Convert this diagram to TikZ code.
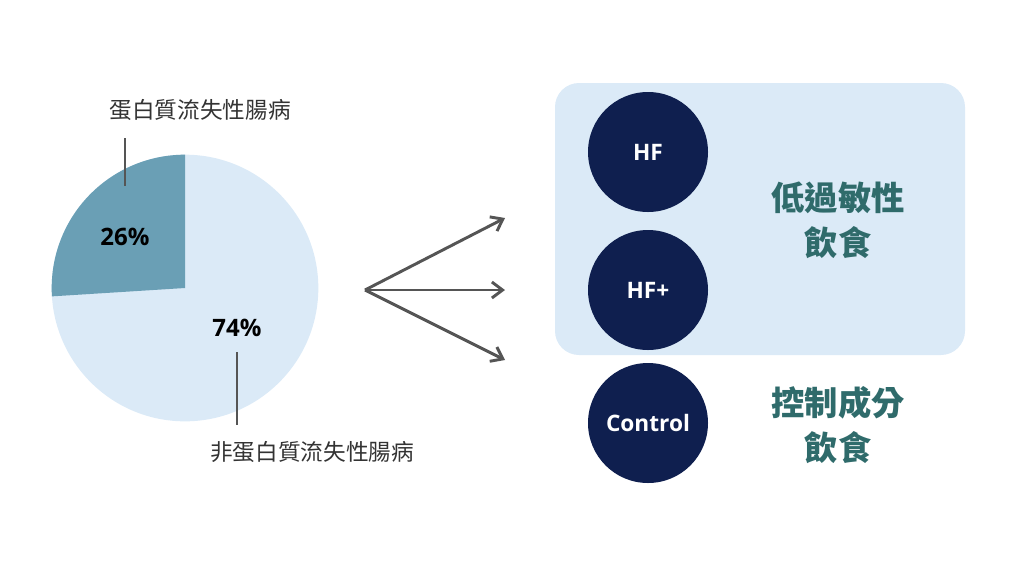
\documentclass[tikz,border=0pt]{standalone}
\usepackage{fontspec}
\setmainfont{Open Sans}
\newfontfamily\cjk{Noto Sans CJK TC}
\usetikzlibrary{positioning,arrows.meta}
\definecolor{pielight}{HTML}{DBEAF7}
\definecolor{piedark}{HTML}{6A9FB5}
\definecolor{navy}{HTML}{0F1F4F}
\definecolor{teal}{HTML}{2F6B6B}
\definecolor{arrowgray}{HTML}{555555}
\tikzset{
  dietdot/.style={circle, fill=navy, minimum size=90pt, inner sep=0pt, text=white, font=\bfseries\fontsize{17}{20}\selectfont},
  dietlabel/.style={text=teal, align=center, font=\cjk\bfseries\fontsize{25}{34}\selectfont},
  pielabel/.style={font=\cjk\fontsize{17}{20}\selectfont, text=black!80},
  pctlabel/.style={font=\bfseries\fontsize{18}{20}\selectfont},
  fan/.style={arrowgray, line width=2.2pt, -{Straight Barb[length=8pt,width=12pt]}}
}
\begin{document}
\begin{tikzpicture}[x=0.75pt,y=-0.75pt]
  \useasboundingbox (0,0) rectangle (1024,576);

  % pie
  \coordinate (piec) at (185,288);
  \fill[pielight] (piec) circle (100pt);
  \fill[piedark] (piec) -- ++(90:100pt) arc[start angle=90, end angle=183.6, radius=100pt] -- cycle;

  \node[pielabel] (protlab) at (200,110) {蛋白質流失性腸病};
  \node[pielabel] (nonlab) at (312,452) {非蛋白質流失性腸病};
  \node[pctlabel] (p26) at (125,237) {26\%};
  \node[pctlabel] (p74) at (237,328) {74\%};
  \draw[arrowgray, thick] (125,138) -- (125,186);
  \draw[arrowgray, thick] (237,352) -- (237,425);

  % fan of arrows
  \coordinate (fanroot) at (365,290);
  \coordinate (toa) at (505,218);
  \coordinate (tob) at (505,290);
  \coordinate (toc) at (505,360);
  \foreach \t in {toa,tob,toc}
    \draw[fan] (fanroot) -- (\t);

  % diet groups
  \fill[pielight, rounded corners=18pt] (555,83) rectangle (965,355);
  \node[dietdot] (hf) at (648,152) {HF};
  \node[dietdot] (hfplus) at (648,290) {HF+};
  \node[dietdot] (ctrl) at (648,423) {Control};
  \node[dietlabel] (hypo) at (838,220) {低過敏性\\飲食};
  \node[dietlabel] (ctrldiet) at (838,425) {控制成分\\飲食};
\end{tikzpicture}
\end{document}
